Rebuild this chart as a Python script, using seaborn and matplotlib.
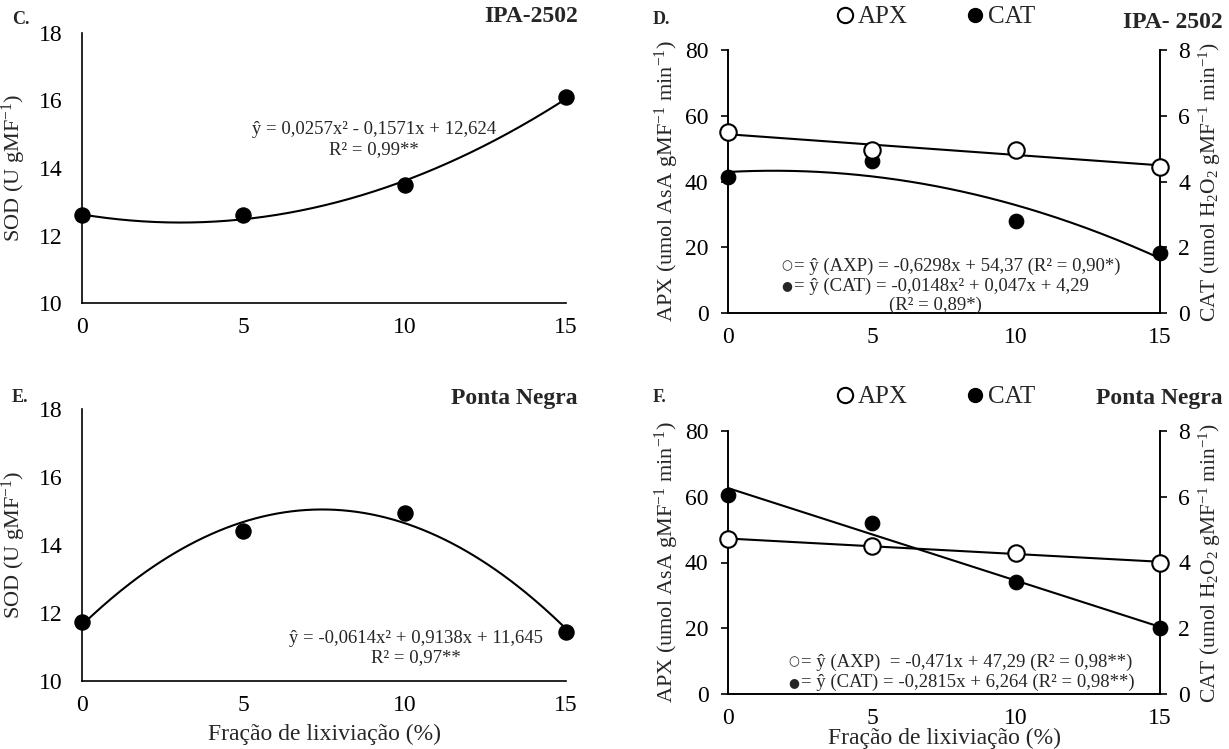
import numpy as np
import pandas as pd
import seaborn as sns
import matplotlib
matplotlib.use("Agg")
import matplotlib.pyplot as plt
from matplotlib.lines import Line2D

# ---------------- data ----------------
fracao = [0, 5, 10, 15]

sod_ipa = [12.6, 12.6, 13.5, 16.1]
sod_pn = [11.75, 14.4, 14.95, 11.45]

apx_ipa = [55.0, 49.7, 49.5, 44.5]
cat_ipa = [4.15, 4.62, 2.80, 1.82]
apx_pn = [47.0, 45.0, 43.0, 40.0]
cat_pn = [6.05, 5.20, 3.40, 2.00]

# fitted equations shown on the chart (polynomial coefficients, highest first)
fit_sod_ipa = [0.0257, -0.1571, 12.624]
fit_sod_pn = [-0.0614, 0.9138, 11.645]
fit_apx_ipa = [-0.6298, 54.37]
fit_cat_ipa = [-0.0148, 0.047, 4.29]
fit_apx_pn = [-0.471, 47.29]
fit_cat_pn = [-0.2815, 6.264]

sod_ticks = [10, 12, 14, 16, 18]
apx_ticks = [0, 20, 40, 60, 80]
cat_ticks = [0, 2, 4, 6, 8]

# ---------------- style ----------------
sns.set_theme(style="white")
plt.rcParams["font.family"] = ["Liberation Serif", "DejaVu Serif"]
plt.rcParams["mathtext.fontset"] = "custom"
plt.rcParams["mathtext.rm"] = "Liberation Serif"
plt.rcParams["mathtext.it"] = "Liberation Serif:italic"
plt.rcParams["axes.edgecolor"] = "black"
plt.rcParams["axes.linewidth"] = 1.2
SYM = ["DejaVu Sans", "Liberation Serif"]

W, H = 1229, 749
fig = plt.figure(figsize=(W / 100, H / 100), dpi=100)


def px_axes(x0, x1, y0, y1):
    return fig.add_axes([x0 / W, 1 - y1 / H, (x1 - x0) / W, (y1 - y0) / H])


def style_axes(ax, right=False):
    ax.spines["top"].set_visible(False)
    ax.spines["right"].set_visible(right)
    ax.tick_params(axis="both", direction="out", length=5, width=1.2,
                   colors="black", labelsize=17)
    ax.tick_params(axis="y", pad=9)
    ax.tick_params(axis="x", pad=5)
    ax.set_xlim(0, 15)
    ax.set_xticks(fracao)
    ax.set_facecolor("none")


xs = np.linspace(0, 15, 200)
TICKFS = 17
LBLFS = 16
XLBLFS = 17
EQFS = 13.5
TITFS = 17
PT_S = 120

# ---------- Panel C ----------
axC = px_axes(82, 566, 33, 303)
style_axes(axC)
axC.set_ylim(10, 18)
axC.set_yticks(sod_ticks)
axC.plot(xs, np.polyval(fit_sod_ipa, xs), color="black", lw=1.5, zorder=2)
sns.scatterplot(x=fracao, y=sod_ipa, ax=axC, color="black", s=PT_S,
                edgecolor="black", zorder=3, clip_on=False, legend=False)
axC.set_ylabel(r"SOD (U gMF$^{\mathregular{-1}}$)", fontsize=LBLFS, labelpad=8)
axC.text(9.05, 15.14, "ŷ = 0,0257x² - 0,1571x + 12,624", fontsize=EQFS,
         ha="center", va="center")
axC.text(9.05, 14.54, "R² = 0,99**", fontsize=EQFS, ha="center", va="center")
fig.text(12 / W, 1 - 20 / H, "C.", fontsize=13, fontweight="bold", va="center")
fig.text(578 / W, 1 - 17 / H, "IPA-2502", fontsize=TITFS, fontweight="bold",
         ha="right", va="center")

# ---------- Panel E ----------
axE = px_axes(82, 566, 409, 681)
style_axes(axE)
axE.set_ylim(10, 18)
axE.set_yticks(sod_ticks)
axE.plot(xs, np.polyval(fit_sod_pn, xs), color="black", lw=1.5, zorder=2)
sns.scatterplot(x=fracao, y=sod_pn, ax=axE, color="black", s=PT_S,
                edgecolor="black", zorder=3, clip_on=False, legend=False)
axE.set_ylabel(r"SOD (U gMF$^{\mathregular{-1}}$)", fontsize=LBLFS, labelpad=8)
axE.set_xlabel("Fração de lixiviação (%)", fontsize=XLBLFS, labelpad=6)
axE.text(10.34, 11.25, "ŷ = -0,0614x² + 0,9138x + 11,645", fontsize=EQFS,
         ha="center", va="center")
axE.text(10.34, 10.68, "R² = 0,97**", fontsize=EQFS, ha="center", va="center")
fig.text(12 / W, 1 - 397 / H, "E.", fontsize=13, fontweight="bold", va="center")
fig.text(578 / W, 1 - 398 / H, "Ponta Negra", fontsize=TITFS, fontweight="bold",
         ha="right", va="center")


def dual_panel(y0, y1, apx, cat, fapx, fcat, letter, title, eqs, leg_y, letter_y,
               title_y, xlabel=False):
    ax = px_axes(728, 1160, y0, y1)
    style_axes(ax, right=True)
    ax.set_ylim(0, 80)
    ax.set_yticks(apx_ticks)
    ax2 = ax.twinx()
    ax2.set_ylim(0, 8)
    ax2.set_yticks(cat_ticks)
    ax2.spines["top"].set_visible(False)
    ax2.spines["right"].set_linewidth(1.2)
    ax2.tick_params(axis="y", direction="out", length=5, width=1.2,
                    labelsize=TICKFS, pad=8, colors="black")
    ax2.set_xlim(0, 15)
    ax.plot(xs, np.polyval(fapx, xs), color="black", lw=1.5, zorder=2)
    ax2.plot(xs, np.polyval(fcat, xs), color="black", lw=1.5, zorder=2)
    sns.scatterplot(x=fracao, y=cat, ax=ax2, color="black", s=110,
                    edgecolor="black", zorder=4, clip_on=False, legend=False)
    sns.scatterplot(x=fracao, y=apx, ax=ax, color="white",
                    s=140, edgecolor="black", linewidth=1.5, zorder=3,
                    clip_on=False, legend=False)
    ax.set_zorder(ax2.get_zorder() + 1)
    ax.patch.set_visible(False)
    ax.set_ylabel(r"APX (umol AsA gMF$^{\mathregular{-1}}$ min$^{\mathregular{-1}}$)",
                  fontsize=LBLFS, labelpad=3)
    ax2.set_ylabel(r"CAT (umol H$_{\mathregular{2}}$O$_{\mathregular{2}}$ gMF$^{\mathregular{-1}}$ min$^{\mathregular{-1}}$)",
                   fontsize=15.5, labelpad=5)
    if xlabel:
        ax.set_xlabel("Fração de lixiviação (%)", fontsize=XLBLFS, labelpad=-1)
    for (tx, ty, sym, txt, ha) in eqs:
        if sym:
            ax.text(tx, ty, sym, fontsize=9, family=SYM, ha="left",
                    va="center")
            ax.text(tx + 0.42, ty, txt, fontsize=EQFS, ha="left", va="center")
        else:
            ax.text(tx, ty, txt, fontsize=EQFS, ha=ha, va="center")
    handles = [
        Line2D([], [], ls="none", marker="o", markersize=11, markerfacecolor="white",
               markeredgecolor="black", markeredgewidth=1.5),
        Line2D([], [], ls="none", marker="o", markersize=10, markerfacecolor="black",
               markeredgecolor="black"),
    ]
    fig.legend(handles, ["APX", "CAT"], loc="center", ncol=2, frameon=False,
               fontsize=18, handletextpad=0.0, columnspacing=2.2,
               bbox_to_anchor=(934 / W, 1 - leg_y / H), handlelength=1.0)
    fig.text(653 / W, 1 - letter_y / H, letter, fontsize=13, fontweight="bold",
             va="center")
    fig.text(1223 / W, 1 - title_y / H, title, fontsize=TITFS, fontweight="bold",
             ha="right", va="center")
    return ax, ax2


eqs_D = [
    (1.86, 14.3, "○", "= ŷ (AXP) = -0,6298x + 54,37 (R² = 0,90*)", "left"),
    (1.86, 8.2, "●", "= ŷ (CAT) = -0,0148x² + 0,047x + 4,29", "left"),
    (7.2, 2.2, None, "(R² = 0,89*)", "center"),
]
dual_panel(50, 313, apx_ipa, cat_ipa, fit_apx_ipa, fit_cat_ipa, "D.",
           "IPA- 2502", eqs_D, leg_y=17, letter_y=20, title_y=22)

eqs_F = [
    (2.1, 9.7, "○", "= ŷ (AXP)  = -0,471x + 47,29 (R² = 0,98**)", "left"),
    (2.1, 3.4, "●", "= ŷ (CAT) = -0,2815x + 6,264 (R² = 0,98**)", "left"),
]
dual_panel(431, 694, apx_pn, cat_pn, fit_apx_pn, fit_cat_pn, "F.",
           "Ponta Negra", eqs_F, leg_y=397, letter_y=397, title_y=399,
           xlabel=True)

fig.savefig("out.png", dpi=100)
